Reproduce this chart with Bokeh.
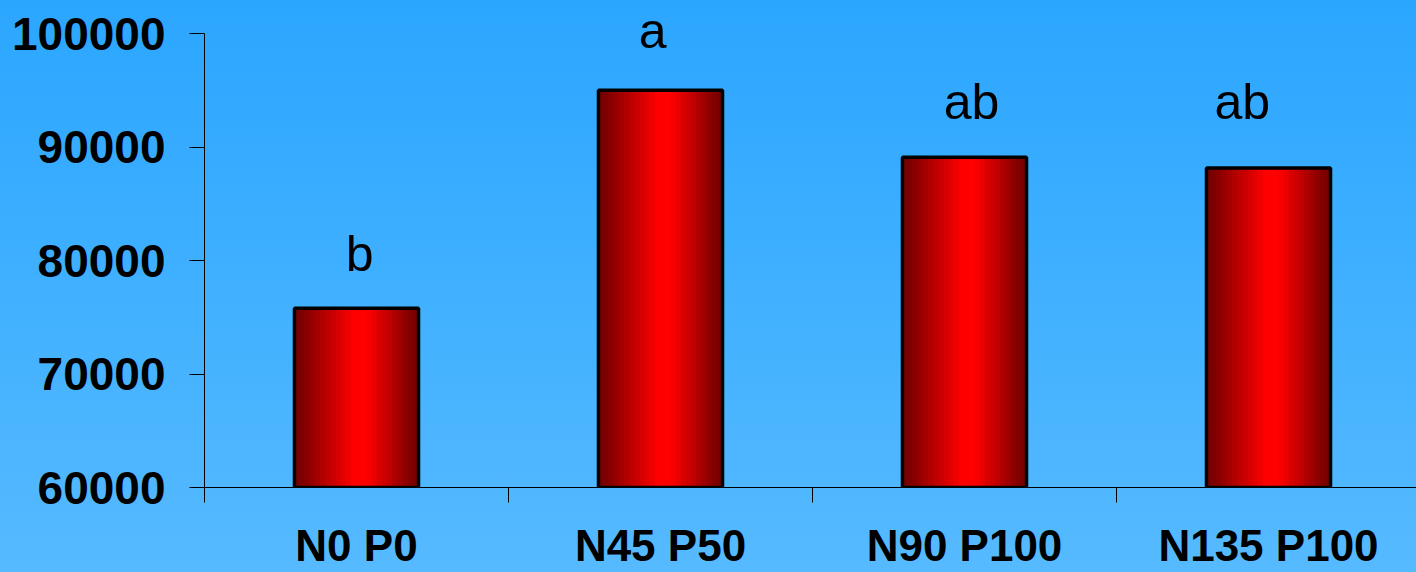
from bokeh.plotting import figure
from bokeh.models import Range1d, FixedTicker, ColumnDataSource, BasicTickFormatter
from bokeh.core.properties import value
from bokeh.embed import file_html
from bokeh.resources import INLINE

# --- data -------------------------------------------------------------
categories = ["N0 P0", "N45 P50", "N90 P100", "N135 P100"]
yields = [75800, 95000, 89100, 88150]
letters = ["b", "a", "ab", "ab"]
letter_x = [0.51, 1.474, 2.523, 3.414]       # category units
letter_y = [80600, 100250, 94000, 94000]     # data units
y_ticks = [60000, 70000, 80000, 90000, 100000]

# --- styling ----------------------------------------------------------
FONT = "Liberation Sans"
BAR_W = 0.408
N_STRIPS = 24
PEAK = 0.54
PX_PER_UNIT = 454 / (y_ticks[-1] - y_ticks[0])   # frame pixels per data unit

centers = [i + 0.5 for i in range(len(categories))]

# frame runs to the top edge so the highest letter is not clipped;
# the y axis itself stops at the last tick
p = figure(
    width=1416, height=572,
    x_range=Range1d(0, 1212 / 304),
    y_range=Range1d(y_ticks[0], y_ticks[-1] + 33 / PX_PER_UNIT),
    output_backend="svg", toolbar_location=None, tools="",
    min_border_left=204, min_border_right=0, min_border_top=0, min_border_bottom=85,
)
p.background_fill_color = None
p.border_fill_color = None
p.outline_line_color = None
p.grid.visible = False
p.styles = {"background": "linear-gradient(to bottom, #2ba6ff 0%, #40b0ff 50%, #56baff 100%)"}

# shaded cylinder-like bars, drawn as narrow vertical strips
strip_w = BAR_W / N_STRIPS
xs, tops, cols = [], [], []
for c, v in zip(centers, yields):
    for k in range(N_STRIPS):
        t = (k + 0.5) / N_STRIPS
        d = (PEAK - t) / PEAK if t < PEAK else (t - PEAK) / (1 - PEAK)
        r = int(round(122 + 133 * max(0.0, min(1.0, 1.25 * (1 - d) - 0.12))))
        xs.append(c - BAR_W / 2 + (k + 0.5) * strip_w)
        tops.append(v)
        cols.append("#%02x0000" % min(r, 255))
strips = ColumnDataSource(dict(x=xs, top=tops, color=cols))
p.vbar(x="x", top="top", bottom=y_ticks[0], width=strip_w * 1.15,
       fill_color="color", line_color=None, source=strips)

bars = ColumnDataSource(dict(x=centers, top=yields))
p.vbar(x="x", top="top", bottom=y_ticks[0], width=BAR_W,
       fill_color=None, line_color="black", line_width=3.5, source=bars)

# significance letters
lab = ColumnDataSource(dict(x=letter_x, y=letter_y, text=letters))
p.text(x="x", y="y", text="text", source=lab, text_align="center",
       text_baseline="alphabetic", text_font=value(FONT),
       text_font_size="50px", text_color="black")

# y axis
ya = p.yaxis[0]
ya.bounds = (y_ticks[0], y_ticks[-1])
ya.ticker = FixedTicker(ticks=y_ticks)
ya.formatter = BasicTickFormatter(use_scientific=False)
ya.major_tick_out = 15
ya.major_tick_in = 0
ya.minor_tick_out = 0
ya.minor_tick_in = 0
ya.axis_line_color = "black"
ya.major_tick_line_color = "black"
ya.major_label_text_font = FONT
ya.major_label_text_font_style = "bold"
ya.major_label_text_font_size = "46px"
ya.major_label_text_color = "black"
ya.major_label_standoff = 24

# x axis: labels at bar centres, separator ticks between categories
xa = p.xaxis[0]
xa.ticker = FixedTicker(ticks=centers, minor_ticks=[0, 1, 2, 3])
xa.major_label_overrides = {c: name for c, name in zip(centers, categories)}
xa.major_tick_out = 0
xa.major_tick_in = 0
xa.minor_tick_out = 15
xa.minor_tick_in = 0
xa.minor_tick_line_color = "black"
xa.axis_line_color = "black"
xa.major_label_text_font = FONT
xa.major_label_text_font_style = "bold"
xa.major_label_text_font_size = "44px"
xa.major_label_text_color = "black"
xa.major_label_standoff = 18

open("out.html", "w").write(file_html(p, INLINE))
